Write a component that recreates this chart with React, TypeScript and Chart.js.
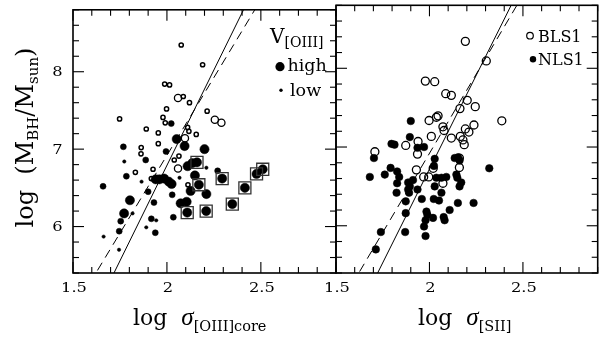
import React, { useEffect, useRef } from "react";
import { Chart, registerables } from "chart.js";
Chart.register(...registerables);

const SERIF = '"DejaVu Serif", "Liberation Serif", serif';
const TIMES = '"Liberation Serif", "DejaVu Serif", serif';

const X_MIN = 1.5;
const X_MAX = 2.9;
const Y_MIN = 5.4;
const Y_MAX = 8.8;
const xMajorTicks = [1.5, 2, 2.5];
const xTickLabels = ["1.5", "2", "2.5"];
const yMajorTicks = [6, 7, 8];
const yTickLabels = ["6", "7", "8"];
const xMinorStep = 0.1;
const yMinorStep = 0.2;

// [slope, intercept] of the relations
const tremaineFit = [4.02, -1.12];
const leftFit = [4.93, -3.07];
const rightFit = [4.76, -2.8];
const fitXSpan = [1.3, 3.0];

// Left panel: log sigma[OIII]core vs log M_BH
const leftHighNLS1 = [
  [2.052, 7.13], [2.094, 7.04], [2.2, 7.0], [2.11, 6.78], [2.135, 6.82],
  [2.126, 6.46], [2.21, 6.42], [2.149, 6.66], [2.105, 6.32], [2.073, 6.3],
  [1.94, 6.61], [1.96, 6.61], [1.985, 6.62], [2.01, 6.58], [2.025, 6.55],
  [1.803, 6.34], [1.772, 6.17],
];
const leftMidNLS1 = [
  [2.023, 7.33], [1.768, 7.03], [1.995, 6.97], [1.887, 6.86], [1.784, 6.65],
  [1.66, 6.52], [1.9, 6.45], [2.028, 6.41], [1.931, 6.31], [1.754, 6.07],
  [1.917, 6.1], [2.034, 6.12], [1.938, 5.92], [1.746, 5.94], [2.27, 6.72],
];
const leftLowNLS1 = [
  [1.773, 6.84], [1.865, 6.58], [1.817, 6.17], [1.943, 6.08], [1.89, 5.99],
  [1.663, 5.87], [1.745, 5.7], [2.21, 6.76], [2.067, 6.63],
];
const leftBoxedNLS1 = [
  [2.16, 6.83], [2.17, 6.54], [2.294, 6.62], [2.415, 6.5], [2.348, 6.29],
  [2.209, 6.2], [2.108, 6.18], [2.477, 6.68], [2.51, 6.74],
];
const leftHighBLS1 = [
  [2.059, 7.66], [2.255, 7.38], [2.29, 7.34], [2.096, 7.14], [2.059, 6.75],
];
const leftLowBLS1 = [
  [2.076, 8.345], [2.19, 8.09], [1.988, 7.84], [2.014, 7.83], [2.087, 7.68],
  [2.12, 7.6], [1.998, 7.52], [2.214, 7.49], [1.748, 7.39], [1.979, 7.41],
  [1.991, 7.34], [1.89, 7.26], [1.954, 7.21], [2.11, 7.28], [2.117, 7.23],
  [2.156, 7.19], [1.954, 7.07], [1.863, 7.02], [1.862, 6.94], [2.064, 6.91],
  [2.039, 6.86], [1.926, 6.74], [1.832, 6.7], [1.917, 6.62], [2.112, 6.54],
];

// Right panel: log sigma[SII] vs log M_BH
const rightBLS1 = [
  [2.192, 8.342], [2.304, 8.093], [1.978, 7.837], [2.028, 7.83], [2.087, 7.677],
  [2.117, 7.656], [2.202, 7.593], [2.163, 7.488], [2.245, 7.513], [1.998, 7.337],
  [2.037, 7.378], [2.046, 7.396], [2.387, 7.333], [2.072, 7.257], [2.078, 7.21],
  [2.192, 7.23], [2.211, 7.19], [2.238, 7.28], [2.01, 7.135], [2.117, 7.114],
  [2.165, 7.135], [2.179, 7.09], [2.186, 7.03], [1.873, 7.02], [1.939, 7.07],
  [1.936, 6.91], [1.708, 6.94], [1.93, 6.71], [2.02, 6.73], [2.16, 6.86],
  [2.16, 6.74], [1.969, 6.62], [1.996, 6.62], [2.072, 6.54],
];
const rightNLS1 = [
  [1.9, 7.33], [1.895, 7.126], [1.797, 7.04], [1.813, 7.03], [1.936, 6.99],
  [1.971, 7.0], [1.703, 6.86], [2.028, 6.85], [2.135, 6.86], [2.153, 6.87],
  [2.161, 6.83], [1.792, 6.735], [1.827, 6.69], [2.32, 6.73], [1.681, 6.62],
  [1.761, 6.65], [1.838, 6.62], [1.827, 6.54], [1.824, 6.42], [1.886, 6.55],
  [1.895, 6.5], [1.886, 6.46], [1.891, 6.42], [1.912, 6.58], [1.936, 6.46],
  [1.959, 6.34], [1.873, 6.31], [1.873, 6.16], [1.87, 5.92], [1.984, 6.18],
  [1.989, 6.14], [1.979, 6.07], [1.971, 5.99], [1.979, 5.87], [2.019, 6.1],
  [2.024, 6.76], [2.028, 6.5], [2.023, 6.34], [2.051, 6.32], [2.064, 6.42],
  [2.037, 6.61], [2.064, 6.61], [2.09, 6.62], [2.108, 6.2], [2.076, 6.11],
  [2.081, 6.07], [2.144, 6.65], [2.149, 6.61], [2.17, 6.55], [2.161, 6.5],
  [2.152, 6.29], [2.236, 6.29], [1.74, 5.92], [1.713, 5.7],
];

type Seg = { t: string; size: number; dy?: number; face?: string };

function fontOf(s: Seg) {
  return s.face ? `${s.face} ${s.size}px ${TIMES}` : `${s.size}px ${SERIF}`;
}

function drawRich(ctx: CanvasRenderingContext2D, segs: Seg[], x: number, y: number, align: "left" | "center", sx = 1) {
  let total = 0;
  for (const s of segs) {
    ctx.font = fontOf(s);
    total += ctx.measureText(s.t).width;
  }
  ctx.save();
  ctx.translate(x, y);
  ctx.scale(sx, 1);
  ctx.textAlign = "left";
  ctx.textBaseline = "alphabetic";
  ctx.fillStyle = "#000";
  let cx = align === "center" ? -total / 2 : 0;
  for (const s of segs) {
    ctx.font = fontOf(s);
    ctx.fillText(s.t, cx, s.dy || 0);
    cx += ctx.measureText(s.t).width;
  }
  ctx.restore();
}

function dot(ctx: CanvasRenderingContext2D, x: number, y: number, r: number, filled: boolean) {
  ctx.beginPath();
  ctx.arc(x, y, r, 0, Math.PI * 2);
  if (filled) {
    ctx.fillStyle = "#000";
    ctx.fill();
  } else {
    ctx.strokeStyle = "#000";
    ctx.lineWidth = 1.2;
    ctx.stroke();
  }
}

function makeDecor(panel: "left" | "right") {
  return {
    id: "decor-" + panel,
    afterDatasetsDraw(chart: any) {
      const { ctx, chartArea: a, scales } = chart;
      const xs = scales.x;
      const ys = scales.y;
      ctx.save();
      ctx.strokeStyle = "#000";
      ctx.lineWidth = 1.6;
      ctx.strokeRect(a.left, a.top, a.right - a.left, a.bottom - a.top);
      ctx.lineWidth = 1.1;
      const line = (x1: number, y1: number, x2: number, y2: number) => {
        ctx.beginPath();
        ctx.moveTo(x1, y1);
        ctx.lineTo(x2, y2);
        ctx.stroke();
      };
      const nx = Math.round((X_MAX - X_MIN) / xMinorStep);
      for (let i = 0; i <= nx; i++) {
        const v = X_MIN + i * xMinorStep;
        const major = xMajorTicks.some((m) => Math.abs(m - v) < 1e-6);
        const len = major ? 11 : 6;
        const px = xs.getPixelForValue(v);
        line(px, a.bottom, px, a.bottom - len);
        line(px, a.top, px, a.top + len);
      }
      const ny = Math.round((Y_MAX - Y_MIN) / yMinorStep);
      for (let i = 0; i <= ny; i++) {
        const v = Y_MIN + i * yMinorStep;
        const major = yMajorTicks.some((m) => Math.abs(m - v) < 1e-6);
        const len = major ? 11 : 6;
        const py = ys.getPixelForValue(v);
        line(a.left, py, a.left + len, py);
        line(a.right, py, a.right - len, py);
      }
      xMajorTicks.forEach((v, i) => {
        drawRich(ctx, [{ t: xTickLabels[i], size: 12.5 }], xs.getPixelForValue(v) + 1, 292, "center", 1.3);
      });
      if (panel === "left") {
        yMajorTicks.forEach((v, i) => {
          drawRich(ctx, [{ t: yTickLabels[i], size: 12.5 }], 57.5, ys.getPixelForValue(v) + 4.5, "center", 1.3);
        });
        drawRich(ctx, [
          { t: "log  ", size: 22 },
          { t: "σ", size: 25, face: "italic" },
          { t: "[OIII]core", size: 14.5, dy: 6 },
        ], 133, 325, "left");
        ctx.save();
        ctx.translate(33, 137.5);
        ctx.rotate(-Math.PI / 2);
        drawRich(ctx, [
          { t: "log  (M", size: 24 },
          { t: "BH", size: 15, dy: 5 },
          { t: "/M", size: 24 },
          { t: "sun", size: 15, dy: 5 },
          { t: ")", size: 24 },
        ], 0, 0, "center");
        ctx.restore();
        drawRich(ctx, [
          { t: "V", size: 20 },
          { t: "[OIII]", size: 14, dy: 4 },
        ], 270, 43, "left");
        dot(ctx, 280, 66.7, 4.6, true);
        drawRich(ctx, [{ t: "high", size: 17.5 }], 287.5, 71, "left");
        dot(ctx, 281, 90.3, 1.7, true);
        drawRich(ctx, [{ t: "low", size: 17.5 }], 290, 96, "left");
      } else {
        drawRich(ctx, [
          { t: "log  ", size: 22 },
          { t: "σ", size: 25, face: "italic" },
          { t: "[SII]", size: 14.5, dy: 6 },
        ], 418, 325, "left");
        dot(ctx, 530, 35.7, 3.3, false);
        drawRich(ctx, [{ t: "BLS1", size: 16 }], 538, 42, "left");
        dot(ctx, 533, 59.3, 3.2, true);
        drawRich(ctx, [{ t: "NLS1", size: 16 }], 538, 65, "left");
      }
      ctx.restore();
    },
  };
}

const pts = (arr: number[][]) => arr.map(([x, y]) => ({ x, y }));
const fitPts = (c: number[]) => fitXSpan.map((x) => ({ x, y: c[0] * x + c[1] }));

function scatterSet(arr: number[][], r: number, filled: boolean, order: number, style = "circle", bw = 1.2, color = "#000") {
  return {
    data: pts(arr),
    pointStyle: style,
    pointRadius: r,
    pointBackgroundColor: filled ? color : "rgba(0,0,0,0)",
    pointBorderColor: color,
    pointBorderWidth: filled ? 0.5 : bw,
    showLine: false,
    order,
  };
}

function lineSet(c: number[], dashed: boolean) {
  return {
    data: fitPts(c),
    showLine: true,
    pointRadius: 0,
    borderColor: "#000",
    borderWidth: 1,
    borderDash: dashed ? [9, 6] : [],
    clip: 0,
    order: 20,
  };
}

function makeConfig(panel: "left" | "right"): any {
  const datasets =
    panel === "left"
      ? [
          lineSet(tremaineFit, true),
          lineSet(leftFit, false),
          scatterSet(leftLowBLS1, 2.1, false, 6, "circle", 1.5),
          scatterSet(leftHighBLS1, 3.6, false, 5, "circle", 1.3),
          scatterSet(leftLowNLS1, 1.7, true, 4),
          scatterSet(leftMidNLS1, 3, true, 3),
          scatterSet(leftHighNLS1, 4.6, true, 2),
          scatterSet(leftBoxedNLS1, 4.6, true, 2),
          scatterSet(leftBoxedNLS1, 8.5, false, 1, "rect", 1.3, "#333"),
        ]
      : [
          lineSet(tremaineFit, true),
          lineSet(rightFit, false),
          scatterSet(rightNLS1, 3.8, true, 4),
          scatterSet(rightBLS1, 4, false, 2, "circle", 1.3),
        ];
  return {
    type: "scatter",
    data: { datasets },
    options: {
      responsive: false,
      animation: false,
      devicePixelRatio: 1,
      events: [],
      layout: {
        padding: panel === "left"
          ? { left: 73, right: 267, top: 4, bottom: 66 }
          : { left: 336, right: 5, top: 4, bottom: 66 },
      },
      plugins: { legend: { display: false }, tooltip: { enabled: false } },
      scales: {
        x: { type: "linear", min: X_MIN, max: X_MAX, display: false },
        y: { type: "linear", min: Y_MIN, max: Y_MAX, display: false },
      },
    },
    plugins: [makeDecor(panel)],
  };
}

export default function App() {
  const leftRef = useRef<HTMLCanvasElement>(null);
  const rightRef = useRef<HTMLCanvasElement>(null);
  useEffect(() => {
    const c1 = new Chart(leftRef.current as HTMLCanvasElement, makeConfig("left"));
    const c2 = new Chart(rightRef.current as HTMLCanvasElement, makeConfig("right"));
    return () => {
      c1.destroy();
      c2.destroy();
    };
  }, []);
  const cs: React.CSSProperties = { position: "absolute", left: 0, top: 0, width: 603, height: 339 };
  return (
    <div style={{ position: "absolute", left: 0, top: 0, width: 603, height: 339, background: "#fff" }}>
      <canvas ref={leftRef} width={603} height={339} style={cs} />
      <canvas ref={rightRef} width={603} height={339} style={cs} />
    </div>
  );
}
